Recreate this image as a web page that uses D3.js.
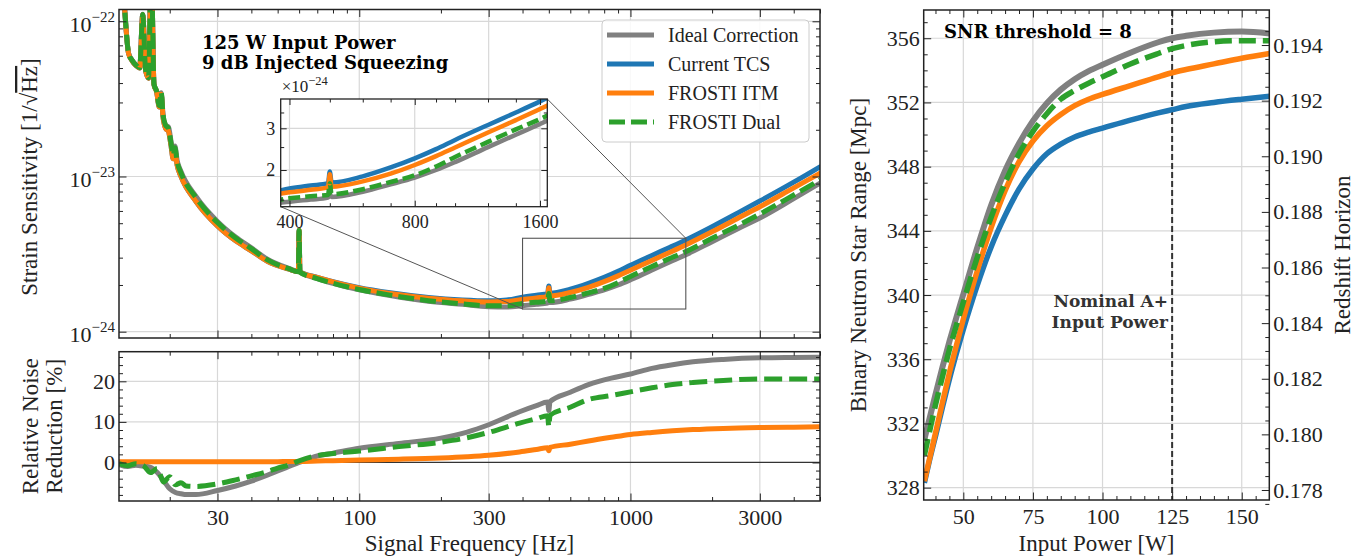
<!DOCTYPE html>
<html><head><meta charset="utf-8">
<script src="https://cdn.jsdelivr.net/npm/d3@7"></script>
<style>
body{margin:0;background:#fff;}
</style></head><body>
<svg id="chart" width="1370" height="560" xmlns="http://www.w3.org/2000/svg"></svg>
<script>
// ---------------- DATA ----------------
const seriesNames = ["Ideal Correction", "Current TCS", "FROSTI ITM", "FROSTI Dual"];

// Strain sensitivity (ASD), values in units of 1e-24 / sqrt(Hz)
const freq = [13,13.5,14.1,14.5,15,15.5,15.9,16.3,16.7,17.1,17.5,17.9,18.3,18.6,18.9,19.3,19.8,20.2,20.6,20.9,21.3,22,25,30,35,40,46,55,59.6,60,60.4,70,80,100,130,180,240,300,350,400,450,495,500,505,600,700,800,900,1000,1200,1400,1600,2000,2500,3000,4000,5000];
const asdIdeal = [302,151,62.5,56.5,52.4,50.4,111,48.4,43.3,222,39.3,35.3,28.6,34.7,25.0,21.5,20.8,17.1,14.0,15.7,12.7,10.8,7.44,5.13,4.07,3.47,2.92,2.56,2.44,4.4,2.43,2.20,2.05,1.86,1.71,1.57,1.50,1.45,1.44,1.47,1.50,1.53,1.58,1.54,1.62,1.74,1.86,2.00,2.16,2.50,2.82,3.13,3.80,4.62,5.40,7.20,9.05];
const asdCurrent = [300,150,62,56,52,50,110,48,43,220,39,35,28,34,24,20.5,19.5,16.0,13.0,14.6,11.8,10.0,6.9,4.8,3.85,3.32,2.83,2.53,2.44,4.5,2.43,2.24,2.1,1.92,1.78,1.66,1.60,1.58,1.60,1.67,1.72,1.76,1.97,1.77,1.88,2.05,2.24,2.45,2.68,3.10,3.50,3.90,4.75,5.85,6.95,9.2,11.55];
const asdItm = [300,150,62,56,52,50,110,48,43,220,39,35,28,34,24,20.5,19.5,16.0,13.0,14.6,11.8,10.0,6.9,4.8,3.85,3.32,2.83,2.53,2.44,4.5,2.43,2.235,2.095,1.91,1.76,1.645,1.58,1.555,1.565,1.61,1.65,1.69,1.92,1.70,1.79,1.93,2.10,2.29,2.49,2.88,3.25,3.62,4.40,5.40,6.38,8.45,10.5];
const asdDual = [301.5,150.7,62.3,56.3,52.3,50.2,110.5,48.3,43.3,221,39.3,35.4,28.6,34.9,24.9,21.4,20.4,16.6,13.7,15.3,12.45,10.55,7.31,5.05,4.02,3.43,2.89,2.545,2.43,4.48,2.42,2.20,2.05,1.87,1.72,1.585,1.51,1.47,1.47,1.52,1.55,1.57,1.76,1.58,1.66,1.78,1.90,2.07,2.27,2.63,2.97,3.28,4.00,4.85,5.73,7.60,9.50];
const ASD_UNIT = 1e-24;

// Relative noise reduction [%]
const redFreq = [13,14,15,16,17,18,19,20,21,22,23,25,30,35,40,46,50,55,60,70,80,100,140,200,250,300,390,450,495,500,505,600,700,850,1000,1200,1430,1700,2200,3000,4000,5000];
const redIdeal = [-0.5,-1.0,-0.7,-0.9,-1.2,-2.5,-4.5,-6.5,-7.4,-7.7,-7.9,-7.9,-6.9,-5.8,-4.6,-3.1,-2.1,-1.0,0.0,1.6,2.3,3.5,4.7,6.0,7.5,9.3,12.5,14.0,14.9,12.8,15.0,17.3,19.2,20.8,21.8,23.2,24.1,24.8,25.4,25.8,25.9,25.95];
const redItm = [0.2,0.2,0.2,0.2,0.2,0.2,0.2,0.2,0.2,0.2,0.2,0.2,0.2,0.2,0.2,0.2,0.2,0.25,0.25,0.35,0.45,0.6,0.8,1.1,1.4,1.75,2.6,3.2,3.6,2.9,3.7,4.5,5.3,6.2,6.9,7.4,7.8,8.1,8.4,8.6,8.7,8.8];
const redDual = [-0.3,-0.8,-0.3,-0.8,-2.5,-1.5,-4.8,-3.5,-5.5,-5.0,-5.8,-5.9,-5.3,-4.3,-3.3,-2.2,-1.4,-0.6,0.4,1.7,2.2,2.8,3.9,5.0,6.1,7.4,9.7,10.8,11.5,8.8,11.6,13.6,15.5,16.5,17.4,18.4,19.2,19.7,20.2,20.6,20.6,20.6];

// BNS range [Mpc] vs input power [W]
const power = [36,38,40,42.5,45,47.5,50,55,60,65,70,75,80,85,90,95,100,110,120,125,130,140,150,160];
const rangeIdeal = [331.0,332.4,333.8,335.5,337.1,338.6,340.05,342.95,345.6,347.75,349.45,350.85,351.95,352.8,353.45,353.95,354.35,355.1,355.75,356.0,356.15,356.35,356.42,356.3];
const rangeCurrent = [328.3,329.8,331.2,333.0,334.75,336.35,337.85,340.6,343.0,344.95,346.6,347.85,348.8,349.4,349.85,350.15,350.4,350.9,351.35,351.55,351.75,352.0,352.2,352.38];
const rangeItm = [328.4,329.9,331.4,333.3,335.15,336.85,338.5,341.5,344.2,346.5,348.3,349.6,350.55,351.25,351.8,352.2,352.5,353.05,353.6,353.85,354.05,354.4,354.75,355.05];
const rangeDual = [330.0,331.6,333.15,334.9,336.6,338.1,339.55,342.35,344.85,347.0,348.8,350.2,351.3,352.2,352.75,353.2,353.6,354.4,355.05,355.35,355.55,355.78,355.85,355.85];
const nominalPower = 125;

// Tick labels
const freqTicks = [30,100,300,1000,3000];
const strainTicks = [1e-24,1e-23,1e-22];
const redTicks = [0,10,20];
const powerTicks = [50,75,100,125,150];
const rangeTicks = [328,332,336,340,344,348,352,356];
const zTicks = [0.178,0.180,0.182,0.184,0.186,0.188,0.190,0.192,0.194];
const insetXTicks = [400,800,1600];
const insetYTicks = [2,3];

// ---------------- STYLE / LAYOUT ----------------
const COLORS = ["#808080", "#1f77b4", "#ff7f0e", "#2ca02c"];
const FONT = "'Liberation Serif','Times New Roman',serif";
const BOLD = "'DejaVu Serif',serif";
const INK = "#222";
const GRID = "#d8d8d8";

const A = {l:119, r:820, t:9.5, b:338};
const B = {l:119, r:820, t:351.7, b:501};
const C = {l:923.7, r:1269.3, t:10, b:500};
const I = {l:280.7, r:547.3, t:99, b:206.7};

const svg = d3.select("#chart");
svg.append("rect").attr("width",1370).attr("height",560).attr("fill","#fff");

const xA = d3.scaleLog().domain([13,5000]).range([A.l,A.r]);
const yA = d3.scaleLog().domain([Math.pow(10,-24.0406), Math.pow(10,-21.924)]).range([A.b,A.t]);
const yB = d3.scaleLinear().domain([-9.5,27.3]).range([B.b,B.t]);
const xC = d3.scaleLinear().domain([35.77,159.9]).range([C.l,C.r]);
const yC = d3.scaleLinear().domain([327.23,357.76]).range([C.b,C.t]);
const zC = d3.scaleLinear().domain([0.17764,0.19526]).range([C.b,C.t]);
const xI = d3.scaleLog().domain([381,1666]).range([I.l,I.r]);
const yI = d3.scaleLog().domain([1.40e-24,3.99e-24]).range([I.b,I.t]);

// minor tick positions
const logMinor = (lo, hi, skip) => {
  const out = [];
  for (let e = Math.floor(Math.log10(lo)); e <= Math.ceil(Math.log10(hi)); e++) {
    for (let m = 1; m < 10; m++) {
      const v = m * Math.pow(10, e);
      if (v >= lo && v <= hi && !skip.some(s => Math.abs(s - v) / v < 1e-6)) out.push(v);
    }
  }
  return out;
};
const freqMinor = logMinor(13, 5000, freqTicks);
const strainMinor = logMinor(9.1e-25, 1.19e-22, strainTicks);
const redMinor = d3.range(-8, 27, 2).filter(v => !redTicks.includes(v));
const powerMinor = d3.range(40, 160, 5).filter(v => !powerTicks.includes(v));
const rangeMinor = d3.range(328, 358, 1).filter(v => !rangeTicks.includes(v));
const zMinor = d3.range(0.1775, 0.1953, 0.0005).filter(v => !zTicks.some(t => Math.abs(t - v) < 1e-7));
const insetXMinor = [500,600,700,900,1000,1200,1400];
const insetYMinor = [1.5,2.5,3.5];

function drawAxis(parent, kind, scale, values, len, opts = {}) {
  const gen = {bottom:d3.axisBottom, top:d3.axisTop, left:d3.axisLeft, right:d3.axisRight}[kind](scale)
    .tickValues(values).tickSizeInner(-len).tickSizeOuter(0).tickPadding(opts.pad ?? 5)
    .tickFormat(opts.fmt || (() => ""));
  const g = parent.append("g").attr("transform", opts.tr || null).call(gen);
  g.select(".domain").remove();
  g.attr("font-family", FONT).attr("font-size", opts.fs || 22);
  g.selectAll(".tick line").attr("stroke", INK).attr("stroke-width", 1);
  g.selectAll(".tick text").attr("fill", INK);
  return g;
}
function frame(g, P, w) {
  g.append("rect").attr("x", P.l).attr("y", P.t).attr("width", P.r - P.l).attr("height", P.b - P.t)
    .attr("fill", "none").attr("stroke", INK).attr("stroke-width", w || 1.5);
}
function clip(id, P) {
  svg.append("clipPath").attr("id", id).append("rect")
    .attr("x", P.l).attr("y", P.t).attr("width", P.r - P.l).attr("height", P.b - P.t);
}
clip("clipA", A); clip("clipB", B); clip("clipC", C); clip("clipI", I);

const MAJ = 7.5, MIN = 4;

// ---------------- PANEL A: strain sensitivity ----------------
const gA = svg.append("g");
gA.append("g").selectAll("line.gx").data(freqTicks).join("line")
  .attr("x1", d => xA(d)).attr("x2", d => xA(d)).attr("y1", A.t).attr("y2", A.b)
  .attr("stroke", GRID).attr("stroke-width", 1.2);
gA.append("g").selectAll("line.gy").data(strainTicks).join("line")
  .attr("y1", d => yA(d)).attr("y2", d => yA(d)).attr("x1", A.l).attr("x2", A.r)
  .attr("stroke", GRID).attr("stroke-width", 1.2);

const asdSeries = [asdIdeal, asdCurrent, asdItm, asdDual];
const lineA = d3.line().curve(d3.curveMonotoneX).x(d => xA(d[0])).y(d => yA(d[1] * ASD_UNIT));
const curvesA = gA.append("g").attr("clip-path", "url(#clipA)");
asdSeries.forEach((vals, i) => {
  curvesA.append("path").datum(d3.zip(freq, vals)).attr("d", lineA)
    .attr("fill", "none").attr("stroke", COLORS[i]).attr("stroke-width", 5)
    .attr("stroke-linejoin", "round").attr("stroke-linecap", i === 3 ? "butt" : "round")
    .attr("stroke-dasharray", i === 3 ? "16,6" : null);
});

drawAxis(gA, "bottom", xA, freqTicks, MAJ, {tr:`translate(0,${A.b})`});
drawAxis(gA, "bottom", xA, freqMinor, MIN, {tr:`translate(0,${A.b})`});
drawAxis(gA, "top", xA, freqTicks, MAJ, {tr:`translate(0,${A.t})`});
drawAxis(gA, "top", xA, freqMinor, MIN, {tr:`translate(0,${A.t})`});
const yAxA = drawAxis(gA, "left", yA, strainTicks, MAJ, {tr:`translate(${A.l},0)`, pad:4});
yAxA.selectAll(".tick text").attr("dy", "0.45em").each(function(d) {
  const t = d3.select(this).text(null);
  t.append("tspan").text("10");
  t.append("tspan").attr("dy", -10).attr("font-size", 15).text("\u2212" + Math.round(-Math.log10(d)));
});
drawAxis(gA, "left", yA, strainMinor, MIN, {tr:`translate(${A.l},0)`});
drawAxis(gA, "right", yA, strainTicks, MAJ, {tr:`translate(${A.r},0)`});
drawAxis(gA, "right", yA, strainMinor, MIN, {tr:`translate(${A.r},0)`});
frame(gA, A);

// zoom rectangle + connectors
const rx1 = xA(400), rx2 = xA(1600), ry1 = yA(4.0e-24), ry2 = yA(1.40e-24);
gA.append("rect").attr("x", rx1).attr("y", ry1).attr("width", rx2 - rx1).attr("height", ry2 - ry1)
  .attr("fill", "none").attr("stroke", "#555").attr("stroke-width", 1.1);
gA.append("line").attr("x1", I.l).attr("y1", I.b).attr("x2", rx1).attr("y2", ry2).attr("stroke", "#555").attr("stroke-width", 1);
gA.append("line").attr("x1", I.r).attr("y1", I.t).attr("x2", rx2).attr("y2", ry1).attr("stroke", "#555").attr("stroke-width", 1);

// annotation
const ann = gA.append("text").attr("font-family", BOLD).attr("font-weight", "bold").attr("font-size", 18).attr("fill", "#000");
ann.append("tspan").attr("x", 202).attr("y", 49).text("125 W Input Power");
ann.append("tspan").attr("x", 202).attr("y", 69).text("9 dB Injected Squeezing");

// ---------------- INSET ----------------
const gI = svg.append("g");
gI.append("rect").attr("x", I.l).attr("y", I.t).attr("width", I.r - I.l).attr("height", I.b - I.t).attr("fill", "#fff");
gI.append("g").selectAll("line").data(insetXTicks).join("line")
  .attr("x1", d => xI(d)).attr("x2", d => xI(d)).attr("y1", I.t).attr("y2", I.b).attr("stroke", GRID).attr("stroke-width", 1.2);
gI.append("g").selectAll("line").data(insetYTicks).join("line")
  .attr("y1", d => yI(d * ASD_UNIT)).attr("y2", d => yI(d * ASD_UNIT)).attr("x1", I.l).attr("x2", I.r).attr("stroke", GRID).attr("stroke-width", 1.2);
const lineI = d3.line().curve(d3.curveMonotoneX).x(d => xI(d[0])).y(d => yI(d[1] * ASD_UNIT));
const curvesI = gI.append("g").attr("clip-path", "url(#clipI)");
asdSeries.forEach((vals, i) => {
  const pts = d3.zip(freq, vals).filter(d => d[0] >= 300);
  curvesI.append("path").datum(pts).attr("d", lineI)
    .attr("fill", "none").attr("stroke", COLORS[i]).attr("stroke-width", 4.5)
    .attr("stroke-linejoin", "round").attr("stroke-linecap", i === 3 ? "butt" : "round")
    .attr("stroke-dasharray", i === 3 ? "12,5" : null);
});
const yIa = insetYTicks.map(v => v * ASD_UNIT);
const yIm = insetYMinor.map(v => v * ASD_UNIT);
drawAxis(gI, "bottom", xI, insetXTicks, 6, {tr:`translate(0,${I.b})`, fmt:d => String(d), pad:8.5, fs:18});
drawAxis(gI, "bottom", xI, insetXMinor, 3.5, {tr:`translate(0,${I.b})`});
drawAxis(gI, "top", xI, insetXTicks, 6, {tr:`translate(0,${I.t})`});
drawAxis(gI, "top", xI, insetXMinor, 3.5, {tr:`translate(0,${I.t})`});
drawAxis(gI, "left", yI, yIa, 6, {tr:`translate(${I.l},0)`, fmt:d => String(Math.round(d / ASD_UNIT)), pad:5.5, fs:18});
drawAxis(gI, "left", yI, yIm, 3.5, {tr:`translate(${I.l},0)`});
drawAxis(gI, "right", yI, yIa, 6, {tr:`translate(${I.r},0)`});
drawAxis(gI, "right", yI, yIm, 3.5, {tr:`translate(${I.r},0)`});
frame(gI, I, 1.3);
const off = gI.append("text").attr("x", I.l + 1).attr("y", 92).attr("font-family", FONT).attr("font-size", 17).attr("fill", INK);
off.append("tspan").text("\u00d710");
off.append("tspan").attr("dy", -7).attr("font-size", 12.5).text("\u221224");

// ---------------- LEGEND ----------------
const gL = svg.append("g").attr("transform", "translate(602,20)");
gL.append("rect").attr("width", 207).attr("height", 122).attr("rx", 4)
  .attr("fill", "#fff").attr("fill-opacity", 0.85).attr("stroke", "#cccccc").attr("stroke-width", 1);
seriesNames.forEach((name, i) => {
  const y = 15 + 29 * i;
  gL.append("line").attr("x1", 5).attr("x2", 52).attr("y1", y).attr("y2", y)
    .attr("stroke", COLORS[i]).attr("stroke-width", 5).attr("stroke-dasharray", i === 3 ? "16,6" : null)
    .attr("stroke-dashoffset", i === 3 ? -2 : null);
  gL.append("text").attr("x", 66).attr("y", y).attr("dy", "0.35em")
    .attr("font-family", FONT).attr("font-size", 20).attr("fill", INK).text(name);
});

// ---------------- PANEL B: relative noise reduction ----------------
const gB = svg.append("g");
gB.append("g").selectAll("line").data(freqTicks).join("line")
  .attr("x1", d => xA(d)).attr("x2", d => xA(d)).attr("y1", B.t).attr("y2", B.b).attr("stroke", GRID).attr("stroke-width", 1.2);
gB.append("g").selectAll("line").data(redTicks.filter(v => v !== 0)).join("line")
  .attr("y1", d => yB(d)).attr("y2", d => yB(d)).attr("x1", B.l).attr("x2", B.r).attr("stroke", GRID).attr("stroke-width", 1.2);
gB.append("line").attr("x1", B.l).attr("x2", B.r).attr("y1", yB(0)).attr("y2", yB(0)).attr("stroke", "#333").attr("stroke-width", 1.3);
const lineB = d3.line().curve(d3.curveMonotoneX).x(d => xA(d[0])).y(d => yB(d[1]));
const curvesB = gB.append("g").attr("clip-path", "url(#clipB)");
[[redIdeal, 0], [redItm, 2], [redDual, 3]].forEach(([vals, ci]) => {
  curvesB.append("path").datum(d3.zip(redFreq, vals)).attr("d", lineB)
    .attr("fill", "none").attr("stroke", COLORS[ci]).attr("stroke-width", 5)
    .attr("stroke-linejoin", "round").attr("stroke-linecap", ci === 3 ? "butt" : "round")
    .attr("stroke-dasharray", ci === 3 ? "18,7" : null);
});
drawAxis(gB, "bottom", xA, freqTicks, MAJ, {tr:`translate(0,${B.b})`, fmt:d => String(d), pad:8.5});
drawAxis(gB, "bottom", xA, freqMinor, MIN, {tr:`translate(0,${B.b})`});
drawAxis(gB, "top", xA, freqTicks, MAJ, {tr:`translate(0,${B.t})`});
drawAxis(gB, "top", xA, freqMinor, MIN, {tr:`translate(0,${B.t})`});
drawAxis(gB, "left", yB, redTicks, MAJ, {tr:`translate(${B.l},0)`, fmt:d => String(d), pad:4});
drawAxis(gB, "left", yB, redMinor, MIN, {tr:`translate(${B.l},0)`});
drawAxis(gB, "right", yB, redTicks, MAJ, {tr:`translate(${B.r},0)`});
drawAxis(gB, "right", yB, redMinor, MIN, {tr:`translate(${B.r},0)`});
frame(gB, B);

// ---------------- PANEL C: BNS range ----------------
const gC = svg.append("g");
gC.append("g").selectAll("line").data(powerTicks).join("line")
  .attr("x1", d => xC(d)).attr("x2", d => xC(d)).attr("y1", C.t).attr("y2", C.b).attr("stroke", GRID).attr("stroke-width", 1.2);
gC.append("g").selectAll("line").data(rangeTicks).join("line")
  .attr("y1", d => yC(d)).attr("y2", d => yC(d)).attr("x1", C.l).attr("x2", C.r).attr("stroke", GRID).attr("stroke-width", 1.2);
gC.append("line").attr("x1", xC(nominalPower)).attr("x2", xC(nominalPower)).attr("y1", C.t).attr("y2", C.b)
  .attr("stroke", "#333").attr("stroke-width", 2).attr("stroke-dasharray", "6,3");
const lineC = d3.line().curve(d3.curveMonotoneX).x(d => xC(d[0])).y(d => yC(d[1]));
const curvesC = gC.append("g").attr("clip-path", "url(#clipC)");
[rangeIdeal, rangeCurrent, rangeItm, rangeDual].forEach((vals, i) => {
  curvesC.append("path").datum(d3.zip(power, vals)).attr("d", lineC)
    .attr("fill", "none").attr("stroke", COLORS[i]).attr("stroke-width", i === 0 ? 6 : 5.5)
    .attr("stroke-linecap", "butt").attr("stroke-dasharray", i === 3 ? "17,7" : null);
});
drawAxis(gC, "bottom", xC, powerTicks, MAJ, {tr:`translate(0,${C.b})`, fmt:d => String(d), pad:8.5});
drawAxis(gC, "bottom", xC, powerMinor, MIN, {tr:`translate(0,${C.b})`});
drawAxis(gC, "top", xC, powerTicks, MAJ, {tr:`translate(0,${C.t})`});
drawAxis(gC, "top", xC, powerMinor, MIN, {tr:`translate(0,${C.t})`});
drawAxis(gC, "left", yC, rangeTicks, MAJ, {tr:`translate(${C.l},0)`, fmt:d => String(d), pad:4});
drawAxis(gC, "left", yC, rangeMinor, MIN, {tr:`translate(${C.l},0)`});
drawAxis(gC, "right", zC, zTicks, MAJ, {tr:`translate(${C.r},0)`, fmt:d3.format(".3f"), pad:4});
drawAxis(gC, "right", zC, zMinor, MIN, {tr:`translate(${C.r},0)`});
frame(gC, C);

gC.append("text").attr("x", 944).attr("y", 38).attr("font-family", BOLD).attr("font-weight", "bold")
  .attr("font-size", 18).attr("fill", "#000").text("SNR threshold = 8");
const nom = gC.append("text").attr("font-family", BOLD).attr("font-weight", "bold").attr("font-size", 17)
  .attr("fill", "#333").attr("text-anchor", "end");
nom.append("tspan").attr("x", 1168).attr("y", 307).text("Nominal A+");
nom.append("tspan").attr("x", 1168).attr("y", 328).text("Input Power");

// ---------------- AXIS LABELS ----------------
const lab = (x, y, rot, txt, anchor) => svg.append("text")
  .attr("transform", `translate(${x},${y})` + (rot ? ` rotate(${rot})` : ""))
  .attr("text-anchor", anchor || "middle").attr("font-family", FONT).attr("font-size", 23).attr("fill", INK).text(txt);
lab((B.l + B.r) / 2, 551, 0, "Signal Frequency [Hz]");
lab((C.l + C.r) / 2, 551, 0, "Input Power [W]");
lab(866, (C.t + C.b) / 2, -90, "Binary Neutron Star Range [Mpc]");
lab(1350, (C.t + C.b) / 2, -90, "Redshift Horizon");
lab(38, (B.t + B.b) / 2, -90, "Relative Noise");
lab(62, (B.t + B.b) / 2, -90, "Reduction [%]");
const sl = lab(37, 177, -90, "");
sl.append("tspan").text("Strain Sensitivity  [1/\u221a");
sl.append("tspan").style("text-decoration", "overline").text("Hz");
sl.append("tspan").text("]");
</script></body></html>
